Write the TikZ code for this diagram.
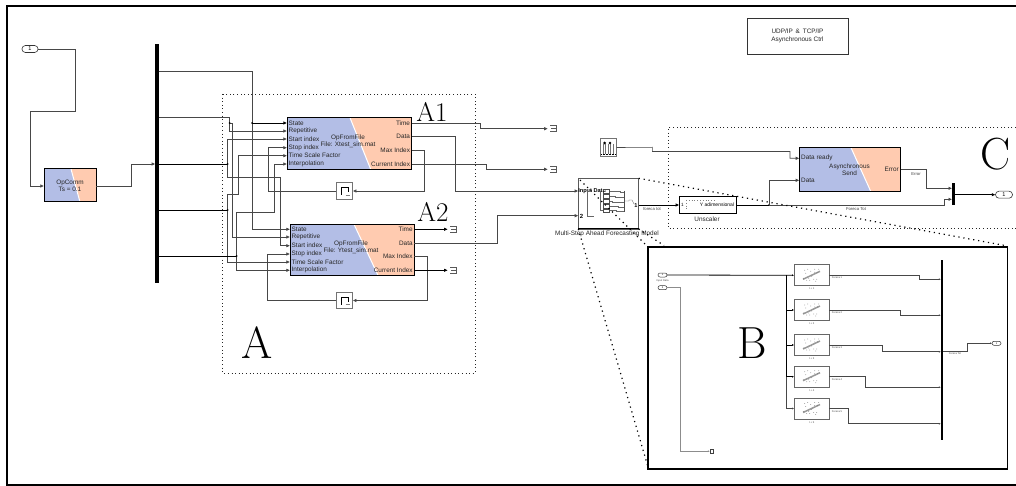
\documentclass[tikz,border=0pt]{standalone}
\usepackage{fontspec}
\setmainfont{Liberation Sans}
\newfontfamily\lmfont{Latin Modern Roman}
\usetikzlibrary{arrows.meta}
\definecolor{blk}{HTML}{B3BEE6}
\definecolor{org}{HTML}{FFCBB0}
\tikzset{
 wire/.style={line width=0.6pt,draw=black!72},
 dwire/.style={line width=0.8pt,draw=black},
 lwire/.style={line width=0.9pt,draw=black!45},
 tip/.style={-{Latex[length=3.6pt,width=3.4pt]}},
 stip/.style={-{Latex[length=2pt,width=2pt]}},
 jn/.style={circle,fill=black,inner sep=0pt,minimum size=2pt},
 lab/.style={inner sep=0pt,font=\fontsize{6.4}{7.4}\selectfont,text=black!85},
 tiny/.style={inner sep=0pt,font=\fontsize{2.6}{3}\selectfont,text=black!70},
 blockframe/.style={draw=black,line width=1pt,inner sep=0pt,outer sep=0pt,fill=none},
 plainblock/.style={draw=black!80,line width=0.7pt,inner sep=0pt,outer sep=0pt,fill=white},
 memframe/.style={draw=black!55,line width=0.9pt,inner sep=0pt,outer sep=0pt,fill=white},
 smallblock/.style={draw=black!60,line width=1pt,inner sep=0pt,outer sep=0pt,fill=white},
 pill/.style={draw=black!80,line width=0.6pt,rounded corners=3.4pt,inner sep=0pt,outer sep=0pt,fill=white,align=center,font=\fontsize{5.5}{6}\selectfont},
 spill/.style={draw=black!80,line width=0.5pt,rounded corners=2pt,inner sep=0pt,outer sep=0pt,fill=white,align=center,font=\fontsize{2.5}{3}\selectfont},
 busbar/.style={fill=black,inner sep=0pt,outer sep=0pt},
 dotbox/.style={draw=black!85,line width=0.9pt,dash pattern=on 1pt off 2.6pt},
 zoomdot/.style={draw=black,line width=1.2pt,dash pattern=on 1.2pt off 3.8pt},
 bigl/.style={inner sep=0pt,font=\lmfont\fontsize{27}{27}\selectfont},
 hugel/.style={inner sep=0pt,font=\lmfont\fontsize{45}{45}\selectfont},
}
% split block: name, x1, y1, x2, y2, top split x, bottom split x
\newcommand{\splitblk}[7]{%
 \fill[blk] (#2,#3) -- (#6,#3) -- (#7,#5) -- (#2,#5) -- cycle;
 \fill[org] (#6,#3) -- (#4,#3) -- (#4,#5) -- (#7,#5) -- cycle;
 \draw[white,line width=1pt] (#6,#3) -- (#7,#5);
 \path (#2,#3) -- node[blockframe,minimum width=#4pt-#2pt,minimum height=#5pt-#3pt,pos=0.5] (#1) {} (#4,#5);
}
% memory block
\newcommand{\memblk}[3]{%
 \node[memframe,minimum width=16.5pt,minimum height=16.5pt] (#1) at (#2,#3) {};
 \draw[black,line width=0.6pt] (#2-3.5,#3+4) -- (#2-3.5,#3-3.5) -- (#2+3.5,#3-3.5) -- (#2+3.5,#3+1);
 \draw[black!50,line width=0.6pt] (#2+1,#3+4) -- (#2+5,#3+4);
}
% terminator
\newcommand{\termblk}[3]{%
 \node[inner sep=0pt,minimum width=10pt,minimum height=7pt] (#1) at (#2,#3) {};
 \draw[black!65,line width=0.5pt] (#2-3,#3-3) -- (#2+3,#3-3) -- (#2+3,#3+3) -- (#2-3,#3+3) (#2-2,#3) -- (#2+3,#3);
}
% forecasting sub-block
\newcommand{\nnblk}[3]{%
 \node[smallblock,minimum width=35pt,minimum height=21pt] (#1) at (811.7,#2) {};
 \draw[black!40,line width=1.5pt] (803,#2+4) -- (820,#2-4);
 \foreach \dx/\dy in {-7/-5,-4/-6,-1/-4,3/-6,6/-3,-8/3,-5/5,-2/5,2/4,5/4,7/-6,0/1,-3/3,3/-3,-6/-2,4/6}
   \fill[black!60] (811.7+\dx,#2+\dy) circle (0.4pt);
 \coordinate (#1i) at (794,#2);
 \coordinate (#1o) at (829.4,#2);
 \node[tiny] (#1t) at (811.7,#2+13.7) {t + #3};
 \node[tiny] (#1l) at (837,#2+2.7) {Foreca #3};
}
\begin{document}
\begin{tikzpicture}[x=1pt,y=-1pt]
\useasboundingbox (0,0) rectangle (1016,486);
\fill[white] (0,0) rectangle (1016,486);
% outer frame
\draw[black,line width=1.8pt] (1016,6) -- (7,6) -- (7,485) -- (1016,485);

% dotted regions
\draw[dotbox] (222.5,94) rectangle (475,373);
\draw[dotbox] (1016,127.5) -- (668.3,127.5) -- (668.3,228.3) -- (1016,228.3);

% top note
\node[plainblock,minimum width=101pt,minimum height=36pt,align=center,lab,draw=black!80] (udp) at (797.5,36) {UDP/IP~\,\&~\,TCP/IP\\Asynchronous Ctrl};

% -------- A1 and A2
\splitblk{aone}{287}{117.7}{411.7}{169.3}{350}{370.7}
\splitblk{atwo}{290}{224.3}{414.3}{275.3}{354}{378}
\foreach \n/\x/\sy in {s/287/123,r/287/131,b/287/139,p/287/147.7,t/287/155.7,i/287/164}
  \coordinate (ao\n) at (\x,\sy);
\foreach \n/\x/\sy in {s/290/229.3,r/290/237,b/290/245.7,p/290/254,t/290/262,i/290/270.3}
  \coordinate (at\n) at (\x,\sy);
\foreach \n/\sy in {T/123,D/136.7,M/150.7,C/164} \coordinate (ao\n) at (411.7,\sy);
\foreach \n/\sy in {T/229.3,D/243,M/256.7,C/270.3} \coordinate (at\n) at (414.3,\sy);
\foreach \x/\sy/\tx/\nm in {288.5/123/State/a,288.5/131/Repetitive/b,288.5/139/Start index/c,288.5/147.7/Stop index/d,288.5/155.7/Time Scale Factor/e,288.5/164/Interpolation/f}
  \node[lab,anchor=west] (la\nm) at (\x,\sy) {\tx};
\foreach \x/\sy/\tx/\nm in {291.5/229.3/State/a,291.5/237/Repetitive/b,291.5/245.7/Start index/c,291.5/254/Stop index/d,291.5/262/Time Scale Factor/e,291.5/270.3/Interpolation/f}
  \node[lab,anchor=west] (lb\nm) at (\x,\sy) {\tx};
\foreach \sy/\tx/\nm in {123/Time/a,136.7/Data/b,150.7/Max Index/c,164/Current Index/d}
  \node[lab,anchor=east] (lc\nm) at (410.2,\sy) {\tx};
\foreach \sy/\tx/\nm in {229.3/Time/a,243/Data/b,256.7/Max Index/c,270.3/Current Index/d}
  \node[lab,anchor=east] (ld\nm) at (412.8,\sy) {\tx};
\node[lab,align=center] (aonet) at (348,141.5) {OpFromFile\\[-0.4pt]File: Xtest\_sim.mat};
\node[lab,align=center] (atwot) at (351,247.5) {OpFromFile\\[-0.4pt]File: Ytest\_sim.mat};
\node[bigl] (Aone) at (432,112) {A1};
\node[bigl] (Atwo) at (433,211.5) {A2};
\node[hugel] (Abig) at (257,343) {A};
\node[hugel] (Bbig) at (752,343) {B};
\node[hugel] (Cbig) at (996,154) {C};

% -------- left part
\node[pill,minimum width=16pt,minimum height=7pt] (inA) at (30,49) {1};
\splitblk{opcomm}{44}{169}{96}{202}{71}{80}
\node[lab,align=center] (opct) at (70,185.5) {OpComm\\[-0.5pt]Ts = 0.1};
\coordinate (opi) at (44,186);
\coordinate (opo) at (96,186);
\node[busbar,minimum width=3.4pt,minimum height=239pt] (bus) at (157,163.5) {};
\coordinate (busin) at (155.3,164);
\foreach \n/\sy in {a/71.7,b/117.5,c/164,d/210,e/256}
  \coordinate (bus\n) at (158.7,\sy);
\draw[wire,tip] (inA.east) -- (75.5,49) -- (75.5,111) -- (30.5,111) -- (30.5,186) -- (opi);
\draw[lwire] (opo) -- (131.5,186) -- (131.5,164);
\draw[wire,tip] (opo) -- (131.5,186) -- (131.5,164) -- (busin);

% bus outputs to A1, A2
\draw[lwire] (busa) -- (252,71.7) -- (252,229.3) -- (280,229.3);
\draw[wire,tip] (busa) -- (252,71.7) -- (252,229.3) -- (ats);
\draw[dwire,tip] (252,123) -- (aos);
\node[jn] (j1) at (252,123) {};
\draw[wire,tip] (busb) -- (229.5,117.5) -- (229.5,131) -- (aor);
\draw[wire,tip] (229.5,123) -- (232,123) -- (232,237) -- (atr);
\node[jn] (j2) at (229.5,123) {};
\draw[dwire] (busc) -- (227.5,164);
\draw[wire,tip] (227.5,164) -- (227.5,139) -- (aob);
\draw[wire,tip] (227.5,164) -- (227.5,177) -- (280.5,177) -- (280.5,245.7) -- (atb);
\node[jn] (j3) at (227.5,164) {};
\draw[dwire] (busd) -- (227.5,210);
\draw[wire,tip] (227.5,210) -- (227.5,194) -- (238,194) -- (238,155.7) -- (aot);
\draw[wire,tip] (227.5,210) -- (227.5,262) -- (att);
\node[jn] (j4) at (227.5,210) {};
\draw[dwire] (buse) -- (236.5,256);
\draw[wire,tip] (236.5,256) -- (236.5,212) -- (274,212) -- (274,164) -- (aoi);
\draw[wire,tip] (236.5,256) -- (236.5,270.3) -- (ati);
\node[jn] (j5) at (236.5,256) {};

% memory loops
\memblk{memA}{344.5}{191}
\memblk{memB}{344.5}{300.5}
\draw[wire,tip] (aoM) -- (424,150.7) -- (424,191) -- (memA.east);
\draw[wire,tip] (memA.west) -- (268.5,191) -- (268.5,147.7) -- (aop);
\draw[wire,tip] (atM) -- (427.7,256.7) -- (427.7,300.5) -- (memB.east);
\draw[wire,tip] (memB.west) -- (267.3,300.5) -- (267.3,254) -- (atp);

% terminators
\termblk{tA}{553}{128.7}
\termblk{tB}{553}{169.3}
\termblk{tC}{453}{229.3}
\termblk{tD}{453}{270.3}
\draw[wire,tip] (aoT) -- (480,123) -- (480,128.7) -- (tA.west);
\draw[wire,tip] (aoC) -- (486.7,164) -- (486.7,169.3) -- (tB.west);
\draw[dwire,tip] (atT) -- (tC.west);
\draw[dwire,tip] (atC) -- (tD.west);

% forecasting model
\node[draw=black!65,line width=0.6pt,inner sep=0pt,outer sep=0pt,minimum width=60.4pt,minimum height=50.7pt] (fm) at (608.5,203.6) {};
\draw[black,line width=1pt] (578.3,229) -- (638.7,229);
\coordinate (fmi) at (578.3,191);
\coordinate (fmj) at (578.3,215.7);
\coordinate (fmo) at (638.7,205);
\draw[wire,tip] (aoD) -- (455.7,136.7) -- (455.7,191) -- (fmi);
\draw[wire,tip] (atD) -- (497.3,243) -- (497.3,215.7) -- (fmj);
\node[inner sep=0pt,font=\bfseries\fontsize{5.6}{6}\selectfont] (fmt) at (592,191) {Input Data};
\node[inner sep=0pt,font=\bfseries\fontsize{6}{6}\selectfont] (fmtw) at (581.5,216) {2};
\node[inner sep=0pt,font=\bfseries\fontsize{5.6}{6}\selectfont] (fmtone) at (636,205.5) {1};
\draw[black!60,line width=0.4pt] (587,191) -- (587,216) -- (594,216);
\foreach \sy/\tx/\nm in {191.5/620/a,196/615/b,201.5/612/c,206/618/d,210.7/616/e} {
  \node[draw=black!70,line width=0.5pt,fill=white,inner sep=0pt,minimum width=6pt,minimum height=3.6pt] (fb\nm) at (606.7,\sy) {};
  \draw[black!60,line width=0.4pt] (fb\nm.east) -- (\tx,\sy) -- (\tx,\sy+0.8) -- (624.5,\sy+0.8);
}
\draw[black!60,line width=0.4pt] (600,191) -- (600,210.7) -- (fbe.west);
\draw[black,line width=0.7pt] (fmt.east) -- (fba.west);
\draw[black!70,line width=0.7pt] (624.5,190.7) -- (624.5,211.7);
\draw[black!60,line width=0.4pt] (624.5,201) -- (629,201) -- (629,200) -- (632,200) -- (634,204);
\node[lab] (fml) at (607,234) {Multi-Step Ahead Forecasting Model};
\node[inner sep=0pt,font=\fontsize{4.2}{5}\selectfont,text=black!75] (ft) at (652,209.5) {foreca tot};

% unscaler
\node[plainblock,minimum width=57.4pt,minimum height=16.6pt,draw=black] (uns) at (708,205) {};
\node[inner sep=0pt,font=\fontsize{4.6}{5}\selectfont] (unsa) at (682.5,205) {1};
\node[inner sep=0pt,font=\fontsize{5}{6}\selectfont] (unsb) at (717,205) {Y adimensional};
\draw[black!50,line width=0.4pt,dash pattern=on 0.8pt off 2pt] (686,200) -- (686,210) (686,200) -- (716,200);
\node[lab] (unsl) at (707,219) {Unscaler};
\draw[dwire,tip] (fmo) -- (uns.west);

% pulse block
\node[memframe,minimum width=16.7pt,minimum height=18.4pt] (pulse) at (608.3,147.5) {};
\foreach \dx in {-5.5,-3,-0.5,2,4.5} \draw[black!55,line width=0.5pt] (608.3+\dx,144) -- (608.3+\dx,154);
\fill[black] (604.6,143) circle (1.4pt) (610,143) circle (1.4pt);
\draw[black,line width=0.9pt,dash pattern=on 0.8pt off 0.7pt] (601,154.5) -- (615.5,154.5);

% async send
\splitblk{send}{799.3}{147.7}{900.7}{191.3}{851}{870.7}
\coordinate (senda) at (799.3,158.3);
\coordinate (sendb) at (799.3,180.3);
\coordinate (sendc) at (900.7,169.3);
\node[lab,anchor=west] (sa) at (801,158.3) {Data ready};
\node[lab,anchor=west] (sb) at (801,180.3) {Data};
\node[lab,anchor=east] (sc) at (899,169.3) {Error};
\node[lab,align=center] (se) at (849.5,169.5) {Asynchronous\\[-0.4pt]Send};
\draw[wire,tip] (pulse.east) -- (652.3,147.3) -- (652.3,151.5) -- (790,151.5) -- (790,158.3) -- (senda);
\node[busbar,minimum width=3.2pt,minimum height=21.4pt] (busC) at (953.7,194) {};
\coordinate (bci) at (952.1,188.3);
\coordinate (bcj) at (952.1,199.3);
\coordinate (bco) at (955.3,194.7);
\node[pill,minimum width=17pt,minimum height=7pt] (outC) at (1004,194.7) {1};
\draw[wire,tip] (sendc) -- (926,169.3) -- (926,188.3) -- (bci);
\node[inner sep=0pt,font=\fontsize{4.2}{5}\selectfont,text=black!75] (errl) at (916,174) {Error};
\draw[dwire,tip] (bco) -- (outC.west);
\draw[dwire] (uns.east) -- (769,205);
\node[jn] (j6) at (769,205) {};
\draw[wire,tip] (769,205) -- (769,180.3) -- (sendb);
\draw[lwire] (769,205) -- (944,205) -- (944,199.3);
\draw[wire,tip] (769,205) -- (944,205) -- (944,199.3) -- (bcj);
\node[inner sep=0pt,font=\fontsize{4.2}{5}\selectfont,text=black!75] (ftl) at (856,209.5) {Foreca Tot};

% B box
\draw[black,line width=1.8pt] (648.3,246.7) rectangle (1007.5,469.3);
\draw[zoomdot] (580,180) -- (647,246);
\draw[zoomdot] (638.7,178.3) -- (1005,245.5);
\draw[zoomdot] (578.3,229) -- (648,467);
\draw[zoomdot] (638.7,229) -- (664,245.5);

\node[spill,minimum width=9pt,minimum height=4pt] (pa) at (662.5,275) {1};
\node[spill,minimum width=9pt,minimum height=4pt] (pb) at (662.5,287.7) {2};
\node[tiny] (pal) at (662.5,280.5) {Input Data};
\nnblk{na}{275.3}{1}
\nnblk{nb}{310}{2}
\nnblk{nc}{345}{3}
\nnblk{nd}{376.7}{4}
\nnblk{ne}{408.5}{5}
\draw[dwire,stip] (pa.east) -- (nai);
\draw[dwire] (786.7,275.3) -- (786.7,376.7);
\draw[wire] (786.7,376.7) -- (786.7,408.5);
\draw[dwire,stip] (786.7,310) -- (nbi);
\draw[dwire,stip] (786.7,345) -- (nci);
\draw[dwire,stip] (786.7,376.7) -- (ndi);
\draw[wire,stip] (786.7,408.5) -- (nei);
\node[busbar,minimum width=2.4pt,minimum height=180pt] (busB) at (942,350) {};
\draw[wire,stip] (nao) -- (919.3,275.3) -- (919.3,279.3) -- (940.8,279.3);
\draw[wire,stip] (nbo) -- (900.7,310) -- (900.7,315.3) -- (940.8,315.3);
\draw[wire,stip] (nco) -- (882.3,345) -- (882.3,351.7) -- (940.8,351.7);
\draw[wire,stip] (ndo) -- (865.3,376.7) -- (865.3,387.3) -- (940.8,387.3);
\draw[wire,stip] (neo) -- (848.3,408.5) -- (848.3,423.7) -- (940.8,423.7);
\node[spill,minimum width=9pt,minimum height=4pt] (pc) at (996.5,343.3) {1};
\draw[wire,stip] (943.2,351.7) -- (967.3,351.7) -- (967.3,343.3) -- (pc.west);
\node[tiny] (pcl) at (955,353.7) {Foreca Tot};
\node[draw=black!75,line width=0.4pt,inner sep=0pt,minimum width=3pt,minimum height=3.5pt] (tE) at (711.5,451.3) {};
\draw[lwire,stip] (pb.east) -- (680.7,287.7) -- (680.7,451.3) -- (tE.west);
\end{tikzpicture}
\end{document}
